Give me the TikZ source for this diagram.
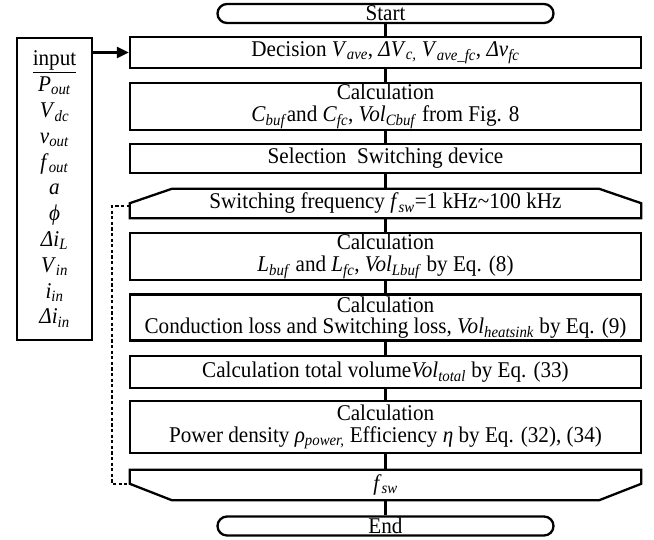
\documentclass[tikz,border=0pt]{standalone}
\usepackage{fontspec}
\setmainfont[FakeStretch=0.94]{Liberation Serif}
\usetikzlibrary{arrows.meta,calc}
\newcommand{\vs}[2]{\textit{#1}\textsubscript{\textit{#2}}}
\begin{document}
\begin{tikzpicture}[x=1pt,y=-1pt,
  txt/.style={font=\fontsize{22.5}{21.5}\selectfont},
  box/.style={txt,draw,line width=2.3pt,minimum width=511pt,inner sep=0pt,align=center},
  hexn/.style={txt,minimum width=511pt,inner sep=0pt,align=center},
  hexline/.style={line width=2.3pt,line join=miter},
  term/.style={txt,draw,line width=2.3pt,minimum width=336pt,minimum height=19pt,inner sep=0pt,rounded corners=9.5pt},
  inbox/.style={draw,line width=2.3pt,minimum width=75pt,minimum height=302pt,inner sep=0pt,align=center,font=\fontsize{22.5}{25.8}\selectfont},
  conn/.style={line width=2.3pt},
  dashline/.style={line width=2.2pt,dash pattern=on 3.2pt off 2.4pt},
  arr/.style={line width=2.3pt,-{Triangle[length=12pt,width=11pt]}}]
\useasboundingbox (0,0) rectangle (654,539);
\node[term] (st) at (385.5,13.5) {Start};
\node[box,minimum height=31pt] (dec) at (385.5,52.5) {Decision \vs{V}{ave}, \textit{Δ}\vs{V}{c,} \vs{V}{ave\_fc}, \textit{Δv}\textsubscript{\textit{fc}}};
\node[box,minimum height=47pt] (c1) at (385.5,106.5) {Calculation\\ \vs{C}{buf}and \vs{C}{fc}, \vs{Vol}{Cbuf} from Fig. 8};
\node[box,minimum height=29pt] (sel) at (385.5,158.5) {Selection\ \ Switching device};
\node[hexn,minimum height=29pt] (h1) at (385.5,203.5) {Switching frequency \vs{f}{sw}=1 kHz\textasciitilde100 kHz};
\node[box,minimum height=47pt] (cl) at (385.5,256.5) {Calculation\\ \vs{L}{buf} and \vs{L}{fc}, \vs{Vol}{Lbuf} by Eq. (8)};
\node[box,minimum height=46pt] (cc) at (385.5,317.5) {Calculation\\ Conduction loss and Switching loss, \vs{Vol}{heatsink} by Eq. (9)};
\node[box,minimum height=32pt] (tv) at (385.5,372) {Calculation total volume\vs{Vol}{total} by Eq. (33)};
\node[box,minimum height=52pt] (pw) at (385.5,427) {Calculation\\ Power density \vs{ρ}{power,} Efficiency \textit{η} by Eq. (32), (34)};
\node[hexn,minimum height=30pt] (h2) at (385.5,485) {\vs{f}{sw}};
\node[term] (en) at (385.5,526) {End};
\node[inbox] (inp) at (54.5,189) {\underline{input}\\ \vs{P}{out}\\ \vs{V}{dc}\\ \vs{v}{out}\\ \vs{f}{out}\\ \textit{a}\\ \textit{ϕ}\\ \textit{Δi}\textsubscript{\textit{L}}\\ \vs{V}{in}\\ \vs{i}{in}\\ \textit{Δi}\textsubscript{\textit{in}}};
% hexagon outlines
\draw[hexline] (h1.south west) -- ([yshift=15pt]h1.south west) -- ([xshift=42pt]h1.north west) -- ([xshift=-42pt]h1.north east) -- ([yshift=15pt]h1.south east) -- (h1.south east) -- cycle;
\draw[hexline] (h2.north west) -- ([yshift=-14pt]h2.north west) -- ([xshift=42pt]h2.south west) -- ([xshift=-42pt]h2.south east) -- ([yshift=-14pt]h2.north east) -- (h2.north east) -- cycle;
% connectors
\draw[conn] (st.south) -- (dec.north);
\draw[conn] (dec.south) -- (c1.north);
\draw[conn] (c1.south) -- (sel.north);
\draw[conn] (sel.south) -- (h1.north);
\draw[conn] (h1.south) -- (cl.north);
\draw[conn] (cl.south) -- (cc.north);
\draw[conn] (cc.south) -- (tv.north);
\draw[conn] (tv.south) -- (pw.north);
\draw[conn] (pw.south) -- (h2.north);
\draw[conn] (h2.south) -- (en.north);
\draw[arr] (inp.east |- dec.west) -- (dec.west);
\draw[dashline] ([yshift=12pt]h1.south west) -- ++(-18,0) |- ([yshift=-14pt]h2.north west);
\end{tikzpicture}
\end{document}
